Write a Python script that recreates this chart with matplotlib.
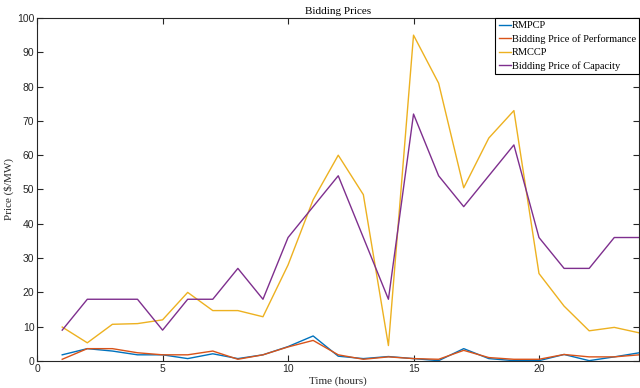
import numpy as np
import matplotlib.pyplot as plt

hours = np.arange(1, 25)
rmpcp = [1.8, 3.6, 2.9, 1.8, 1.8, 0.7, 2.1, 0.7, 1.8, 4.2, 7.3, 1.4,
         0.7, 1.3, 0.7, 0.1, 3.6, 0.7, 0.1, 0.1, 1.9, 0.1, 1.2, 2.4]
perf = [0.5, 3.6, 3.6, 2.4, 1.8, 1.8, 2.9, 0.5, 1.8, 4.1, 6.0, 1.8,
        0.5, 1.2, 0.7, 0.5, 3.1, 1.0, 0.5, 0.5, 1.9, 1.2, 1.2, 1.8]
rmccp = [9.9, 5.3, 10.7, 10.9, 12, 20, 14.7, 14.7, 12.9, 28, 47, 60,
         48.5, 4.5, 95, 81, 50.5, 65, 73, 25.5, 16, 8.8, 9.8, 8.2]
cap = [9, 18, 18, 18, 9, 18, 18, 27, 18, 36, 45, 54,
       36, 18, 72, 54, 45, 54, 63, 36, 27, 27, 36, 36]

serif = 'Liberation Serif'
grey = '#262626'

fig = plt.figure(figsize=(6.4, 3.88), dpi=100)
ax = fig.add_axes([0.058, 0.0696, 0.941, 0.884])

ax.plot(hours, rmpcp, color='#0072BD', lw=1.0, label='RMPCP')
ax.plot(hours, perf, color='#D95319', lw=1.0, label='Bidding Price of Performance')
ax.plot(hours, rmccp, color='#EDB120', lw=1.0, label='RMCCP')
ax.plot(hours, cap, color='#7E2F8E', lw=1.0, label='Bidding Price of Capacity')

ax.set_xlim(0, 24)
ax.set_ylim(0, 100)
ax.set_xticks([0, 5, 10, 15, 20])
ax.set_yticks(np.arange(0, 101, 10))
ax.tick_params(direction='in', length=4, width=0.8, colors=grey, labelsize=7.5,
               top=True, right=True, pad=2)
for lab in ax.get_xticklabels() + ax.get_yticklabels():
    lab.set_family('Liberation Sans')
for s in ax.spines.values():
    s.set_color(grey)
    s.set_linewidth(0.8)

ax.set_title('Bidding Prices', fontsize=8, family=serif, pad=3)
ax.set_xlabel('Time (hours)', fontsize=8, family=serif, color=grey)
ax.set_ylabel('Price (\\$/MW)', fontsize=8, family=serif, color=grey)
ax.yaxis.set_label_coords(-0.038, 0.5)
ax.xaxis.set_label_coords(0.5, -0.044)

leg = ax.legend(loc='upper right', prop={'family': serif, 'size': 7.5},
                fancybox=False, edgecolor='black', framealpha=1,
                handlelength=1.2, handletextpad=0.1, borderpad=0.3,
                labelspacing=0.38, borderaxespad=0.0)
leg.get_frame().set_linewidth(0.8)

fig.savefig('out.png', dpi=100)
